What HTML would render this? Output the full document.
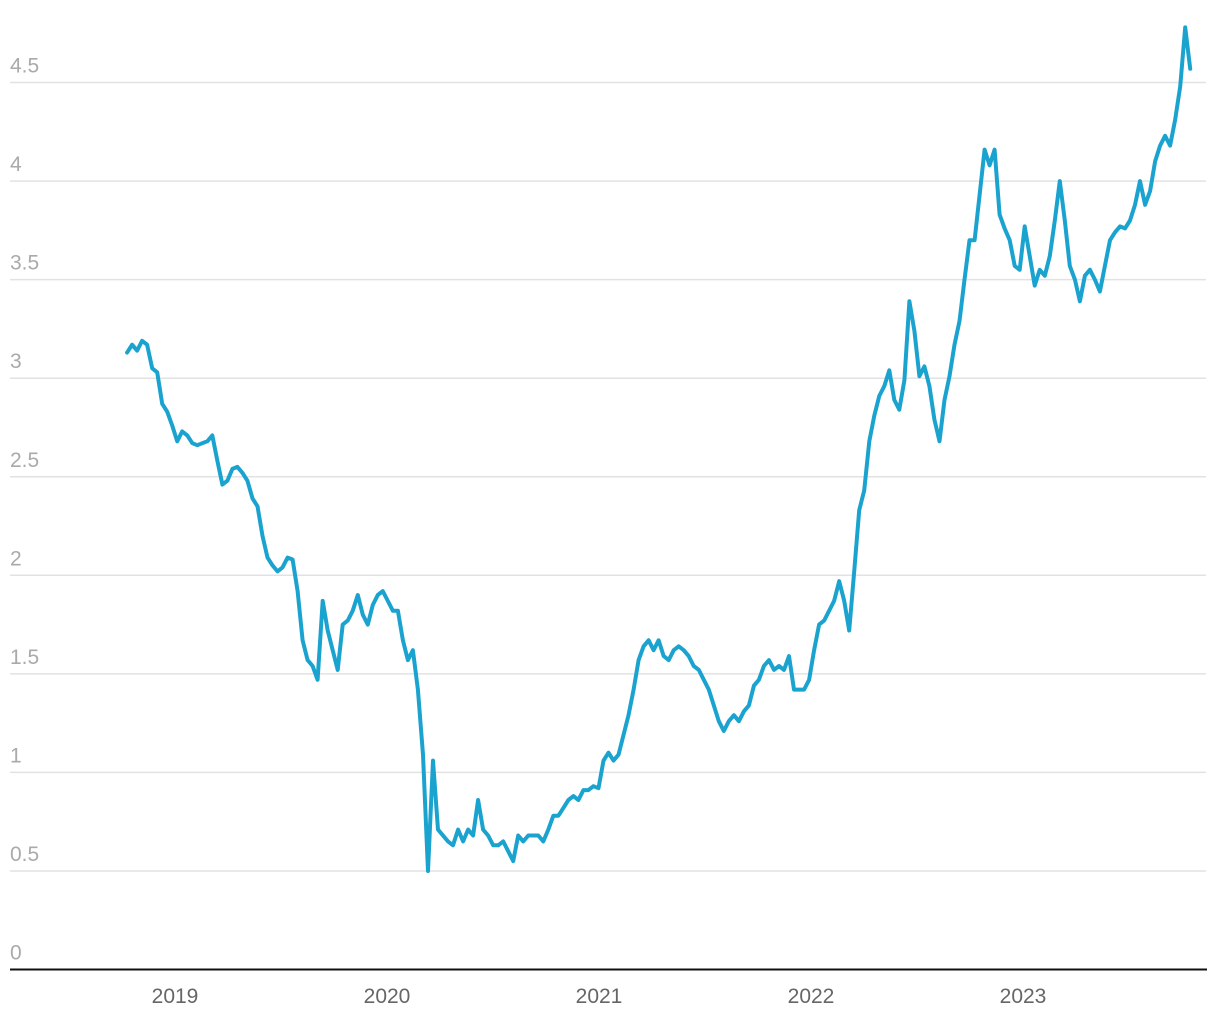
<!DOCTYPE html>
<html><head><meta charset="utf-8"><style>
body{margin:0;background:#fff;}
svg{display:block;font-family:"Liberation Sans",sans-serif;}
</style></head><body>
<svg id="chart" width="1220" height="1020"></svg>
<script>
const yTicks=[0,0.5,1,1.5,2,2.5,3,3.5,4,4.5];
const yTickLabels=["0","0.5","1","1.5","2","2.5","3","3.5","4","4.5"];
const xTicks=[2019,2020,2021,2022,2023];
const startYear=2018.774;
const stepWeeks=1.23;
const values=[3.13,3.17,3.14,3.19,3.17,3.05,3.03,2.87,2.83,2.76,2.68,2.73,2.71,2.67,2.66,2.67,2.68,2.71,2.58,2.46,2.48,2.54,2.55,2.52,2.48,2.39,2.35,2.20,2.09,2.05,2.02,2.04,2.09,2.08,1.92,1.67,1.57,1.54,1.47,1.87,1.72,1.62,1.52,1.75,1.77,1.82,1.90,1.80,1.75,1.85,1.90,1.92,1.87,1.82,1.82,1.67,1.57,1.62,1.42,1.09,0.50,1.06,0.71,0.68,0.65,0.63,0.71,0.65,0.71,0.68,0.86,0.71,0.68,0.63,0.63,0.65,0.60,0.55,0.68,0.65,0.68,0.68,0.68,0.65,0.71,0.78,0.78,0.82,0.86,0.88,0.86,0.91,0.91,0.93,0.92,1.06,1.10,1.06,1.09,1.19,1.29,1.42,1.57,1.64,1.67,1.62,1.67,1.59,1.57,1.62,1.64,1.62,1.59,1.54,1.52,1.47,1.42,1.34,1.26,1.21,1.26,1.29,1.26,1.31,1.34,1.44,1.47,1.54,1.57,1.52,1.54,1.52,1.59,1.42,1.42,1.42,1.47,1.62,1.75,1.77,1.82,1.87,1.97,1.87,1.72,2.02,2.33,2.43,2.68,2.81,2.91,2.96,3.04,2.89,2.84,2.99,3.39,3.24,3.01,3.06,2.96,2.79,2.68,2.89,3.01,3.17,3.29,3.50,3.70,3.70,3.93,4.16,4.08,4.16,3.83,3.76,3.70,3.57,3.55,3.77,3.62,3.47,3.55,3.52,3.62,3.80,4.00,3.80,3.57,3.50,3.39,3.52,3.55,3.50,3.44,3.57,3.70,3.74,3.77,3.76,3.80,3.88,4.00,3.88,3.95,4.10,4.18,4.23,4.18,4.31,4.48,4.78,4.57];
const NS="http://www.w3.org/2000/svg";
const svg=document.getElementById('chart');
const X0=10,X1=1206;
function xScale(yr){return 175+(yr-2019)*212;}
function yScale(v){return 969.5-v*197.1;}
function el(tag,attrs){const e=document.createElementNS(NS,tag);for(const k in attrs)e.setAttribute(k,attrs[k]);svg.appendChild(e);return e;}
yTicks.forEach((t,i)=>{
  if(t>0){const g=el('line',{x1:X0,x2:X1,y1:yScale(t),y2:yScale(t),stroke:'#e2e2e2','stroke-width':1.5});
  
  }
  const tx=el('text',{x:10,y:yScale(t)-10,fill:'#aaaaaa','font-size':21});
  tx.textContent=yTickLabels[i];
  
  
});
const base=el('line',{x1:X0,x2:1207,y1:969.5,y2:969.5,stroke:'#111','stroke-width':2});


xTicks.forEach(t=>{
  const tx=el('text',{x:xScale(t),y:1003,fill:'#666','font-size':21,'text-anchor':'middle'});
  tx.textContent=String(t);
  
  
});
const pts=values.map((v,i)=>xScale(startYear+i*stepWeeks/52).toFixed(1)+','+yScale(v).toFixed(1));
const line=el('polyline',{points:pts.join(' '),fill:'none',stroke:'#1ba3cf','stroke-width':4,'stroke-linejoin':'round','stroke-linecap':'round'});


</script>
</body></html>
